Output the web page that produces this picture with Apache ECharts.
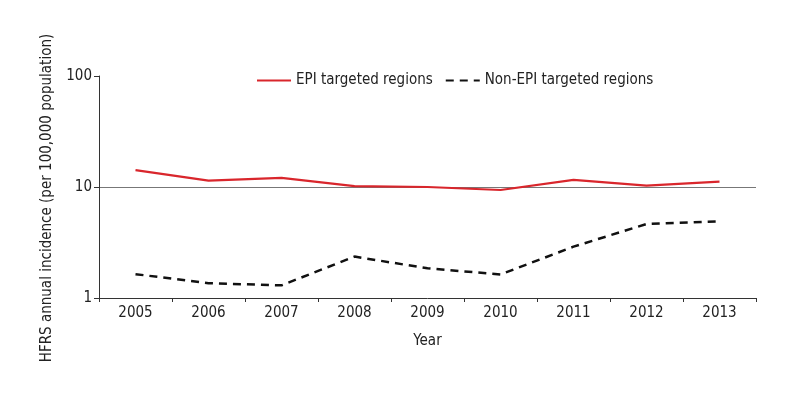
<!DOCTYPE html>
<html>
<head>
<meta charset="utf-8">
<script src="https://cdn.jsdelivr.net/npm/echarts@6/dist/echarts.min.js"></script>
<style>html,body{margin:0;padding:0;background:#fff;}#c{width:800px;height:400px;}</style>
</head>
<body>
<div id="c"></div>
<script>
var years = ['2005','2006','2007','2008','2009','2010','2011','2012','2013'];
var epi = [14.2, 11.4, 12.1, 10.2, 10.0, 9.4, 11.6, 10.3, 11.2];
var nonEpi = [1.64, 1.36, 1.30, 2.36, 1.85, 1.63, 2.90, 4.64, 4.91];
var yTicks = [1, 10, 100];

var FONT = "'Liberation Sans Narrow', 'DejaVu Sans Condensed', 'Roboto Condensed', sans-serif";
var chart = echarts.init(document.getElementById('c'), null, {renderer: 'canvas'});
chart.setOption({
  animation: false,
  textStyle: {fontFamily: FONT},
  grid: {left: 99, right: 44, top: 76, bottom: 102, containLabel: false},
  legend: {
    top: 68, left: 251,
    itemWidth: 34, itemHeight: 14, itemGap: 12,
    itemStyle: {opacity: 0},
    textStyle: {fontFamily: FONT, fontSize: 15, color: '#222'},
    data: ['EPI targeted regions', 'Non-EPI targeted regions']
  },
  xAxis: {
    type: 'category',
    data: years,
    boundaryGap: true,
    name: 'Year',
    nameLocation: 'middle',
    nameGap: 36,
    nameTextStyle: {fontFamily: FONT, fontSize: 15, color: '#222'},
    axisLine: {lineStyle: {color: '#333', width: 1}},
    axisTick: {show: true, inside: false, length: 4, lineStyle: {color: '#333'}},
    axisLabel: {fontFamily: FONT, fontSize: 15, color: '#222', margin: 8},
    splitLine: {show: false}
  },
  yAxis: {
    type: 'log',
    logBase: 10,
    min: 1, max: 100,
    name: 'HFRS annual incidence (per 100,000 population)',
    nameLocation: 'middle',
    nameGap: 44,
    nameTextStyle: {fontFamily: FONT, fontSize: 15, color: '#222', padding: [0, 22, 0, 0]},
    axisLine: {show: true, lineStyle: {color: '#333', width: 1}},
    axisTick: {show: true, inside: false, length: 5, lineStyle: {color: '#333'}},
    axisLabel: {fontFamily: FONT, fontSize: 15, color: '#222', margin: 7,
      formatter: function (v) { return yTicks.indexOf(Math.round(v)) >= 0 ? String(Math.round(v)) : ''; }},
    splitLine: {show: true, showMinLine: false, showMaxLine: false, lineStyle: {color: '#777', width: 1}}
  },
  series: [
    {
      name: 'EPI targeted regions',
      type: 'line',
      data: epi,
      symbol: 'none',
      lineStyle: {color: '#d9262c', width: 2.2},
      itemStyle: {color: '#d9262c'}
    },
    {
      name: 'Non-EPI targeted regions',
      type: 'line',
      data: nonEpi,
      symbol: 'none',
      lineStyle: {color: '#111', width: 2.5, type: [8, 6]},
      itemStyle: {color: '#111'}
    }
  ]
});
</script>
</body>
</html>
